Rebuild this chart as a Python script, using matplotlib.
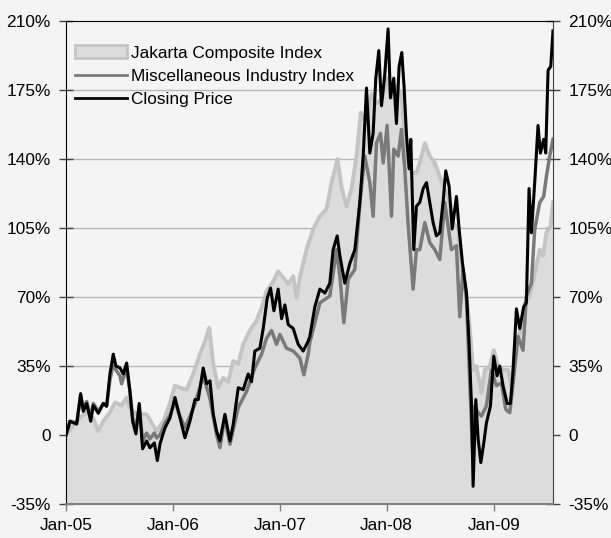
import pandas as pd
import numpy as np
import matplotlib
matplotlib.use('Agg')
import matplotlib.pyplot as plt
import matplotlib.dates as mdates
from matplotlib.patches import Patch
from matplotlib.ticker import FuncFormatter

# Time in years since 1 Jan 2005, values in % change
jci_t = [0.000, 0.100, 0.193, 0.255, 0.302, 0.349, 0.411, 0.458, 0.520, 0.567, 0.598, 0.660,
         0.754, 0.847, 0.910, 0.972, 1.019, 1.065, 1.128, 1.190, 1.252, 1.299, 1.340, 1.377,
         1.424, 1.470, 1.517, 1.564, 1.611, 1.657, 1.720, 1.782, 1.829, 1.875, 1.938, 1.984,
         2.031, 2.078, 2.125, 2.156, 2.187, 2.249, 2.312, 2.374, 2.436, 2.483, 2.539, 2.576,
         2.623, 2.670, 2.717, 2.757, 2.810, 2.857, 2.897, 2.950, 3.003, 3.044, 3.090, 3.137,
         3.184, 3.231, 3.277, 3.308, 3.355, 3.402, 3.449, 3.495, 3.542, 3.589, 3.620, 3.667,
         3.698, 3.745, 3.776, 3.807, 3.838, 3.885, 3.916, 3.963, 4.000, 4.040, 4.087, 4.134,
         4.165, 4.196, 4.243, 4.290, 4.336, 4.383, 4.430, 4.461, 4.492, 4.530, 4.554]
jci_v = [0, 7, 12, 8.5, 2, 7, 11.5, 16.5, 15, 19, 13.6, 10.5,
         10.5, 2, 7, 16, 25, 24, 23, 31, 41, 47.6, 54.4, 36,
         24, 29, 27, 37.5, 36, 46, 53, 58, 64.5, 73, 78, 83,
         80, 76.6, 80.6, 69.6, 80, 94, 104.5, 111, 114.6, 128, 140, 126,
         116, 125, 141.5, 163.5, 158, 173, 168, 170, 181, 171, 177, 173,
         140, 133, 133, 138, 148, 141.5, 138, 131, 124.6, 118, 107.7, 104.5,
         87.4, 70.5, 54, 33, 35, 21.5, 33, 35, 43, 35, 33, 33,
         25, 43, 52, 67, 70.5, 82, 94, 91, 102.6, 106, 118]

misc_t = [0.000, 0.037, 0.100, 0.137, 0.162, 0.193, 0.231, 0.255, 0.302, 0.349, 0.380, 0.411,
          0.442, 0.467, 0.505, 0.520, 0.567, 0.598, 0.623, 0.654, 0.685, 0.716, 0.754, 0.785,
          0.826, 0.847, 0.879, 0.925, 0.972, 1.019, 1.065, 1.112, 1.159, 1.206, 1.283, 1.346,
          1.408, 1.439, 1.486, 1.533, 1.611, 1.688, 1.766, 1.829, 1.875, 1.922, 1.969, 2.000,
          2.062, 2.125, 2.187, 2.224, 2.265, 2.280, 2.374, 2.467, 2.530, 2.561, 2.598, 2.639,
          2.701, 2.748, 2.794, 2.841, 2.872, 2.903, 2.941, 2.966, 3.003, 3.044, 3.065, 3.106,
          3.137, 3.168, 3.199, 3.246, 3.277, 3.308, 3.355, 3.402, 3.449, 3.495, 3.542, 3.573,
          3.604, 3.651, 3.682, 3.713, 3.745, 3.776, 3.801, 3.822, 3.854, 3.885, 3.931, 3.978,
          4.025, 4.072, 4.112, 4.150, 4.181, 4.227, 4.274, 4.305, 4.352, 4.383, 4.430, 4.467,
          4.492, 4.523, 4.554]
misc_v = [0, 7, 6, 20, 13, 17, 9, 16, 12, 16, 15, 28,
          36, 33, 30, 26, 34, 22, 9, 3, 15, -3, 1, -2,
          1, -1.5, 0, 6, 10, 17, 9.5, 3.7, 9.5, 15.7, 30, 18.5,
          0.3, -6.4, 9, -4.7, 14, 22, 34, 41, 49, 53, 46, 51,
          44, 42.6, 39, 30.5, 41, 47, 67, 70.5, 94, 80.6, 57, 79,
          84, 118, 141.5, 128, 111, 148, 153, 138, 157, 111, 145, 141.5,
          155, 135, 107, 74, 94, 94, 107.7, 97.5, 94, 89, 118, 106,
          94, 96, 60, 84, 69, 26.5, -7, 14.7, 11.3, 9.6, 14.7, 33,
          25, 26.5, 13, 11.3, 26.5, 50, 43, 70.5, 77, 104.3, 118, 121,
          131, 141.5, 150]

close_t = [0.000, 0.037, 0.100, 0.137, 0.162, 0.193, 0.231, 0.255, 0.302, 0.349, 0.380, 0.411,
           0.442, 0.467, 0.505, 0.536, 0.567, 0.598, 0.623, 0.654, 0.685, 0.716, 0.754, 0.785,
           0.826, 0.854, 0.879, 0.925, 0.972, 1.019, 1.065, 1.112, 1.159, 1.206, 1.237, 1.283,
           1.315, 1.346, 1.377, 1.408, 1.439, 1.486, 1.533, 1.564, 1.611, 1.657, 1.704, 1.735,
           1.766, 1.813, 1.844, 1.882, 1.913, 1.944, 1.984, 2.016, 2.047, 2.078, 2.125, 2.171,
           2.218, 2.265, 2.280, 2.327, 2.374, 2.421, 2.467, 2.498, 2.536, 2.561, 2.607, 2.654,
           2.701, 2.748, 2.779, 2.810, 2.841, 2.872, 2.897, 2.925, 2.950, 2.981, 3.012, 3.034,
           3.065, 3.090, 3.115, 3.140, 3.162, 3.184, 3.209, 3.224, 3.252, 3.277, 3.308, 3.340,
           3.371, 3.402, 3.433, 3.464, 3.495, 3.526, 3.551, 3.583, 3.611, 3.651, 3.676, 3.707,
           3.745, 3.769, 3.791, 3.807, 3.832, 3.854, 3.879, 3.907, 3.931, 3.969, 4.000, 4.031,
           4.056, 4.087, 4.125, 4.156, 4.181, 4.212, 4.243, 4.280, 4.305, 4.330, 4.352, 4.383,
           4.414, 4.436, 4.467, 4.486, 4.508, 4.533, 4.554]
close_v = [0, 7, 5.5, 21, 12, 16, 7, 15, 11, 16, 14.5, 31,
           41, 35, 34, 31, 36.5, 22, 7, 0.5, 16, -7, -3, -6.5,
           -4, -13, -4.5, 3.5, 8.6, 19, 9, -1.4, 7, 18, 18, 34,
           26, 27.5, 10.5, 2, -3, 10.5, -3, 5.5, 24, 23, 31, 27,
           42.6, 44, 54, 69.5, 74.5, 63, 74, 59, 66, 56, 54, 46,
           42.6, 47.6, 50, 65, 74, 72, 77, 94, 101, 91, 77, 87,
           94, 118, 141.5, 176, 143, 153, 181, 195, 167, 183, 206, 171,
           181, 158, 187, 194, 176, 152, 135, 150, 94, 116, 118, 125,
           128, 118, 107.7, 101, 102.6, 118, 134, 126, 104.5, 121, 104.5, 87.4,
           72, 47, 16, -26, 18, -2, -14, -4, 6, 14.7, 40, 30,
           35, 25, 16, 16, 33, 64, 54, 65, 67, 125, 102.6, 128,
           157, 143, 150, 143, 185, 187, 205]

y_ticks = [-35, 0, 35, 70, 105, 140, 175, 210]
x_tick_years = [2005, 2006, 2007, 2008, 2009]

base = pd.Timestamp('2005-01-01')


def to_dates(t):
    return base + pd.to_timedelta(np.array(t) * 365.25, unit='D')


plt.rcParams['font.family'] = ['Liberation Sans', 'DejaVu Sans']
plt.rcParams['font.size'] = 12.4

bg = '#f4f4f4'
fig = plt.figure(figsize=(6.11, 5.38), dpi=100, facecolor=bg)
ax = fig.add_axes([66 / 611, 1 - 504 / 538, (553 - 66) / 611, (504 - 21) / 538])
ax.set_facecolor(bg)

jd = to_dates(jci_t)
ax.fill_between(jd, -35, jci_v, color='#dcdcdc', lw=0, zorder=2)
ax.plot(jd, jci_v, color='#c4c4c4', lw=2.8, zorder=3)
ax.plot(to_dates(misc_t), misc_v, color='#7a7a7a', lw=2.5, zorder=4)
ax.plot(to_dates(close_t), close_v, color='#000000', lw=2.2, zorder=5)

ax.set_ylim(-35, 210)
ax.set_xlim(to_dates([0.0])[0], to_dates([4.554])[0])
ax.set_yticks(y_ticks)
ax.yaxis.set_major_formatter(FuncFormatter(lambda v, p: '0' if v == 0 else f'{v:.0f}%'))
ax.set_xticks([pd.Timestamp(f'{y}-01-01') for y in x_tick_years])
ax.xaxis.set_major_formatter(mdates.DateFormatter('Jan-%y'))

for y in y_ticks[1:-1]:
    ax.axhline(y, color='#b8b8b8', lw=1, zorder=1)

ax.tick_params(axis='y', direction='inout', length=10, width=1, left=True, right=True,
               labelleft=True, labelright=True, pad=6, colors='black')
ax.tick_params(axis='y', which='major', color='#404040')
ax.tick_params(axis='x', direction='out', length=5, width=1, color='#808080', pad=5)

ax.spines['left'].set_color('black')
ax.spines['top'].set_color('black')
ax.spines['right'].set_color('#404040')
ax.spines['bottom'].set_color('#808080')
ax.spines['bottom'].set_linewidth(1.5)
for s in ax.spines.values():
    s.set_zorder(6)

handles = [Patch(facecolor='#dcdcdc', edgecolor='#c4c4c4', lw=2),
           plt.Line2D([], [], color='#7a7a7a', lw=2),
           plt.Line2D([], [], color='black', lw=2)]
labels = ['Jakarta Composite Index', 'Miscellaneous Industry Index', 'Closing Price']
ax.legend(handles, labels, loc='upper left', bbox_to_anchor=(0.0185, 0.95), frameon=False,
          borderpad=0, borderaxespad=0, handlelength=3.0, handletextpad=0.25,
          labelspacing=0.45, handleheight=0.8)

fig.savefig('out.png', dpi=100, facecolor=bg)
